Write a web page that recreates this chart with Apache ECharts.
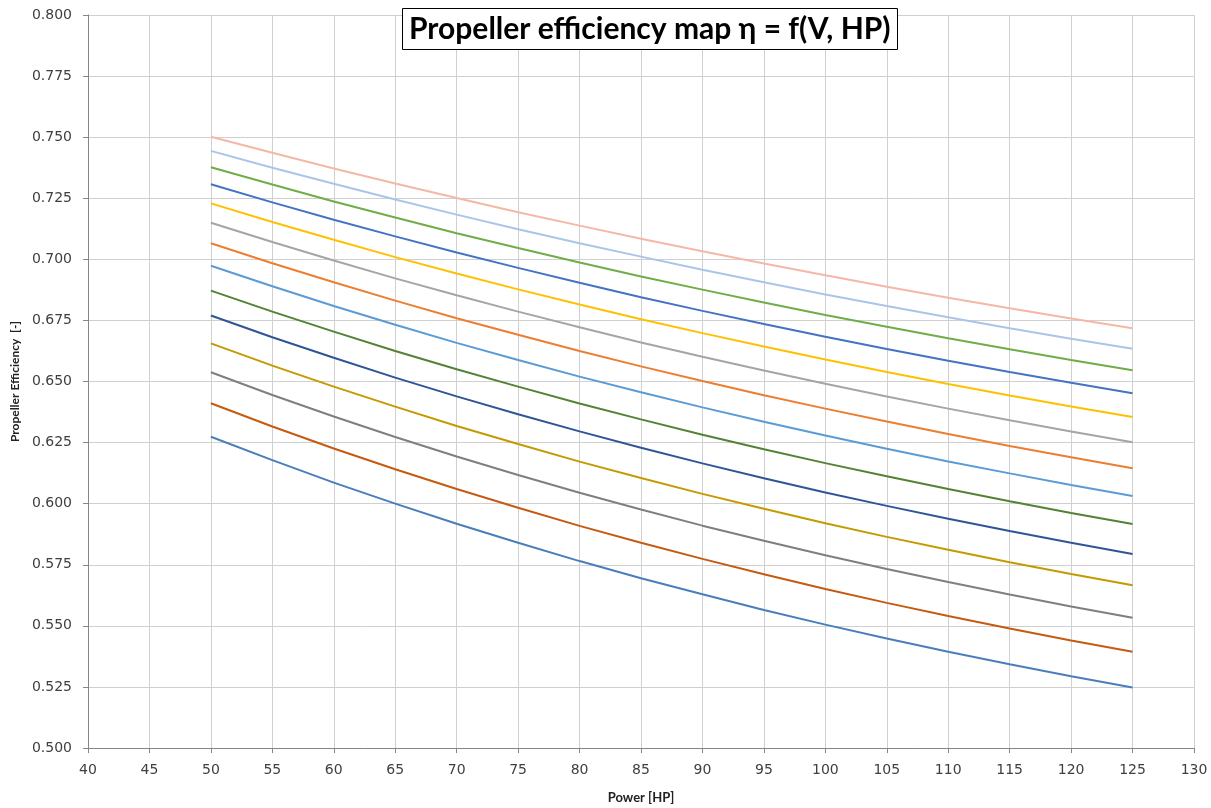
<!DOCTYPE html>
<html>
<head>
<meta charset="utf-8">
<style>
  html, body { margin: 0; padding: 0; background: #fff; }
  #chart { width: 1211px; height: 808px; }
</style>
<script src="https://cdn.jsdelivr.net/npm/echarts@6/dist/echarts.min.js"></script>
</head>
<body>
<div id="chart"></div>
<script>
// Shaft power [HP] at which each curve is sampled
const power = [50, 55, 60, 65, 70, 75, 80, 85, 90, 95, 100, 105, 110, 115, 120, 125];

// Propeller efficiency curves, lowest to highest
const eta01 = [0.6274, 0.6178, 0.6086, 0.6000, 0.5918, 0.5840, 0.5765, 0.5695, 0.5629, 0.5565, 0.5505, 0.5448, 0.5394, 0.5343, 0.5294, 0.5248];
const eta02 = [0.6411, 0.6316, 0.6226, 0.6141, 0.6060, 0.5983, 0.5909, 0.5840, 0.5774, 0.5711, 0.5651, 0.5594, 0.5540, 0.5489, 0.5440, 0.5394];
const eta03 = [0.6538, 0.6445, 0.6357, 0.6273, 0.6193, 0.6117, 0.6045, 0.5976, 0.5910, 0.5848, 0.5789, 0.5733, 0.5679, 0.5628, 0.5579, 0.5533];
const eta04 = [0.6656, 0.6565, 0.6479, 0.6397, 0.6318, 0.6244, 0.6172, 0.6105, 0.6040, 0.5979, 0.5920, 0.5864, 0.5811, 0.5760, 0.5712, 0.5666];
const eta05 = [0.6770, 0.6681, 0.6597, 0.6516, 0.6439, 0.6366, 0.6296, 0.6229, 0.6165, 0.6104, 0.6046, 0.5991, 0.5938, 0.5888, 0.5840, 0.5794];
const eta06 = [0.6872, 0.6786, 0.6704, 0.6625, 0.6550, 0.6479, 0.6410, 0.6345, 0.6282, 0.6223, 0.6166, 0.6112, 0.6060, 0.6010, 0.5962, 0.5917];
const eta07 = [0.6974, 0.6890, 0.6809, 0.6732, 0.6658, 0.6588, 0.6520, 0.6456, 0.6394, 0.6335, 0.6279, 0.6225, 0.6173, 0.6124, 0.6076, 0.6031];
const eta08 = [0.7066, 0.6984, 0.6906, 0.6831, 0.6759, 0.6691, 0.6625, 0.6562, 0.6502, 0.6444, 0.6389, 0.6336, 0.6285, 0.6236, 0.6190, 0.6145];
const eta09 = [0.7150, 0.7071, 0.6995, 0.6922, 0.6853, 0.6786, 0.6722, 0.6660, 0.6601, 0.6545, 0.6491, 0.6439, 0.6389, 0.6341, 0.6295, 0.6251];
const eta10 = [0.7229, 0.7153, 0.7080, 0.7009, 0.6942, 0.6877, 0.6815, 0.6755, 0.6698, 0.6643, 0.6590, 0.6539, 0.6490, 0.6443, 0.6398, 0.6355];
const eta11 = [0.7307, 0.7233, 0.7162, 0.7094, 0.7028, 0.6965, 0.6904, 0.6845, 0.6789, 0.6735, 0.6683, 0.6633, 0.6585, 0.6539, 0.6495, 0.6452];
const eta12 = [0.7377, 0.7306, 0.7237, 0.7171, 0.7107, 0.7046, 0.6987, 0.6930, 0.6876, 0.6823, 0.6772, 0.6724, 0.6677, 0.6632, 0.6588, 0.6546];
const eta13 = [0.7444, 0.7375, 0.7309, 0.7245, 0.7183, 0.7123, 0.7066, 0.7011, 0.6957, 0.6906, 0.6856, 0.6809, 0.6763, 0.6718, 0.6675, 0.6634];
const eta14 = [0.7502, 0.7436, 0.7372, 0.7310, 0.7251, 0.7193, 0.7138, 0.7084, 0.7033, 0.6983, 0.6935, 0.6888, 0.6843, 0.6800, 0.6758, 0.6718];

const curves = [eta01, eta02, eta03, eta04, eta05, eta06, eta07, eta08, eta09, eta10, eta11, eta12, eta13, eta14];
const curveColors = [
  '#4a7ebb', '#c55a11', '#7f7f7f', '#c49a00', '#2f5597', '#548235',
  '#5b9bd5', '#ed7d31', '#a5a5a5', '#ffc000', '#4472c4', '#70ad47',
  '#a9c5e8', '#f5b7a6'
];

// Axis ranges and tick spacing
const xMin = 40, xMax = 130, xStep = 5;
const yMin = 0.5, yMax = 0.8, yStep = 0.025;

const chart = echarts.init(document.getElementById('chart'), null, { renderer: 'canvas' });

const series = curves.map((vals, i) => ({
  name: 'eta' + String(i + 1).padStart(2, '0'),
  type: 'line',
  data: power.map((p, j) => [p, vals[j]]),
  showSymbol: false,
  smooth: false,
  lineStyle: { width: 2, color: curveColors[i] },
  itemStyle: { color: curveColors[i] },
  z: 3
}));

chart.setOption({
  animation: false,
  backgroundColor: '#ffffff',
  title: {
    text: 'Propeller efficiency map \u03b7 = f(V, HP)',
    left: 402,
    top: 8,
    padding: [5, 7, 5, 7],
    borderColor: '#000000',
    borderWidth: 1,
    backgroundColor: '#ffffff',
    textStyle: {
      fontFamily: 'Lato',
      fontWeight: 'bold',
      fontSize: 30,
      lineHeight: 32,
      color: '#000000'
    },
    z: 10
  },
  grid: {
    left: 88, right: 17, top: 15, bottom: 60,
    containLabel: false,
    outerBoundsMode: 'none'
  },
  xAxis: {
    type: 'value',
    min: xMin,
    max: xMax,
    interval: xStep,
    name: 'Power [HP]',
    nameLocation: 'middle',
    nameGap: 43,
    nameTextStyle: { fontFamily: 'Lato', fontWeight: 'bold', fontSize: 13, color: '#222' },
    axisLine: { show: true, onZero: false, lineStyle: { color: '#868686', width: 1 } },
    axisTick: { show: true, length: 5, lineStyle: { color: '#868686' } },
    axisLabel: { fontFamily: 'DejaVu Sans', fontSize: 14, color: '#404040', margin: 15 },
    splitLine: { show: true, lineStyle: { color: '#d0d0d0', width: 1 } }
  },
  yAxis: {
    type: 'value',
    min: yMin,
    max: yMax,
    interval: yStep,
    name: 'Propeller Efficiency  [-]',
    nameLocation: 'middle',
    nameGap: 66,
    nameRotate: 90,
    nameTextStyle: { fontFamily: 'Lato', fontWeight: 'bold', fontSize: 12, color: '#222' },
    axisLine: { show: true, lineStyle: { color: '#868686', width: 1 } },
    axisTick: { show: true, length: 5, lineStyle: { color: '#868686' } },
    axisLabel: {
      fontFamily: 'DejaVu Sans', fontSize: 14, color: '#404040', margin: 16,
      formatter: v => v.toFixed(3)
    },
    splitLine: { show: true, lineStyle: { color: '#d0d0d0', width: 1 } }
  },
  series: series
});
</script>
</body>
</html>
